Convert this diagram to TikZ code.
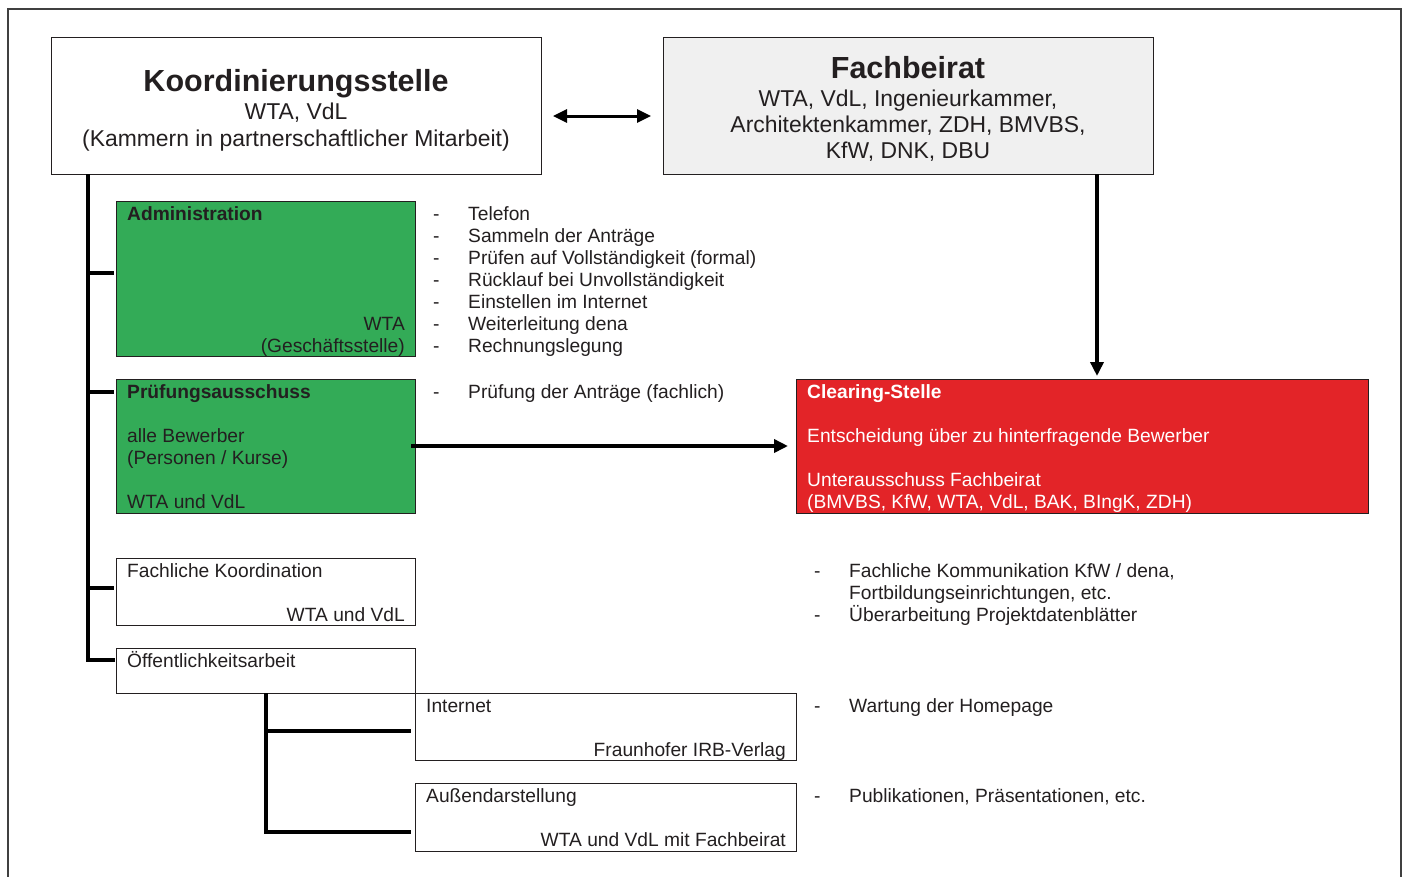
\documentclass[tikz,border=0pt]{standalone}
\usepackage{fontspec}
\setmainfont{Liberation Sans}
\usetikzlibrary{arrows.meta}
\definecolor{grn}{RGB}{51,171,87}
\definecolor{rd}{RGB}{227,36,40}
\definecolor{gry}{RGB}{240,240,240}
\definecolor{txt}{RGB}{35,31,32}
\begin{document}
\begin{tikzpicture}[x=1pt,y=-1pt,
  box/.style={draw=txt, line width=1pt, inner sep=0pt, outer sep=0pt, anchor=north west},
  conn/.style={line width=4pt},
  arr/.style={line width=4pt, -{Triangle[length=14pt,width=13pt]}},
  t/.style={inner sep=0pt, text=txt, font=\fontsize{19.2}{22}\selectfont},
  tb/.style={inner sep=0pt, text=txt, font=\fontsize{19.2}{22}\selectfont\bfseries},
  tw/.style={inner sep=0pt, text=white, font=\fontsize{19.2}{22}\selectfont},
  twb/.style={inner sep=0pt, text=white, font=\fontsize{19.2}{22}\selectfont\bfseries},
  big/.style={inner sep=0pt, text=txt, font=\fontsize{22.9}{26}\selectfont},
  title/.style={inner sep=0pt, text=txt, font=\fontsize{30.5}{34}\selectfont\bfseries},
]
\useasboundingbox (0,0) rectangle (1407,876);
\draw[line width=1.5pt, draw=black!75] (8,9) rectangle (1401,900);

% top boxes
\node[box, minimum width=490pt, minimum height=137pt] (koord) at (51,37) {};
\node[title, anchor=base] (koordT) at (296,91) {Koordinierungsstelle};
\node[big, anchor=base] (koord1) at (296,119) {WTA, VdL};
\node[big, anchor=base] (koord2) at (296,146) {(Kammern in partnerschaftlicher Mitarbeit)};

\node[box, fill=gry, minimum width=490pt, minimum height=137pt] (fach) at (663,37) {};
\node[title, anchor=base] (fachT) at (908,78) {Fachbeirat};
\node[big, anchor=base] (fach1) at (908,106) {WTA, VdL, Ingenieurkammer,};
\node[big, anchor=base] (fach2) at (908,132) {Architektenkammer, ZDH, BMVBS,};
\node[big, anchor=base] (fach3) at (908,158) {KfW, DNK, DBU};

% Administration
\node[box, fill=grn, minimum width=299pt, minimum height=155pt] (adm) at (116,201) {};
\node[tb, anchor=base west] (admT) at (127,220) {Administration};
\node[t, anchor=base east] (adm1) at (405,330) {WTA};
\node[t, anchor=base east] (adm2) at (405,352) {(Geschäftsstelle)};
\node[t, anchor=base west] (ad1) at (433,220) {-};
\node[t, anchor=base west] (al1) at (468,220) {Telefon};
\node[t, anchor=base west] (ad2) at (433,242) {-};
\node[t, anchor=base west] (al2) at (468,242) {Sammeln der Anträge};
\node[t, anchor=base west] (ad3) at (433,264) {-};
\node[t, anchor=base west] (al3) at (468,264) {Prüfen auf Vollständigkeit (formal)};
\node[t, anchor=base west] (ad4) at (433,286) {-};
\node[t, anchor=base west] (al4) at (468,286) {Rücklauf bei Unvollständigkeit};
\node[t, anchor=base west] (ad5) at (433,308) {-};
\node[t, anchor=base west] (al5) at (468,308) {Einstellen im Internet};
\node[t, anchor=base west] (ad6) at (433,330) {-};
\node[t, anchor=base west] (al6) at (468,330) {Weiterleitung dena};
\node[t, anchor=base west] (ad7) at (433,352) {-};
\node[t, anchor=base west] (al7) at (468,352) {Rechnungslegung};

% Pruefungsausschuss
\node[box, fill=grn, minimum width=299pt, minimum height=134pt] (pruef) at (116,379) {};
\node[tb, anchor=base west] (pruefT) at (127,398) {Prüfungsausschuss};
\node[t, anchor=base west] (pruef1) at (127,442) {alle Bewerber};
\node[t, anchor=base west] (pruef2) at (127,464) {(Personen / Kurse)};
\node[t, anchor=base west] (pruef3) at (127,508) {WTA und VdL};
\node[t, anchor=base west] (pd1) at (433,398) {-};
\node[t, anchor=base west] (pl1) at (468,398) {Prüfung der Anträge (fachlich)};

% Clearing-Stelle
\node[box, fill=rd, minimum width=572pt, minimum height=134pt] (clear) at (796,379) {};
\node[twb, anchor=base west] (clearT) at (807,398) {Clearing-Stelle};
\node[tw, anchor=base west] (clear1) at (807,442) {Entscheidung über zu hinterfragende Bewerber};
\node[tw, anchor=base west] (clear2) at (807,486) {Unterausschuss Fachbeirat};
\node[tw, anchor=base west] (clear3) at (807,508) {(BMVBS, KfW, WTA, VdL, BAK, BIngK, ZDH)};

% Fachliche Koordination
\node[box, minimum width=299pt, minimum height=67pt] (fk) at (116,558) {};
\node[t, anchor=base west] (fkT) at (127,577) {Fachliche Koordination};
\node[t, anchor=base east] (fk1) at (405,621) {WTA und VdL};
\node[t, anchor=base west] (fd1) at (814,577) {-};
\node[t, anchor=base west] (fl1) at (849,577) {Fachliche Kommunikation KfW / dena,};
\node[t, anchor=base west] (fl2) at (849,599) {Fortbildungseinrichtungen, etc.};
\node[t, anchor=base west] (fd3) at (814,621) {-};
\node[t, anchor=base west] (fl3) at (849,621) {Überarbeitung Projektdatenblätter};

% Oeffentlichkeitsarbeit
\node[box, minimum width=299pt, minimum height=45pt] (oeff) at (116,648) {};
\node[t, anchor=base west] (oeffT) at (127,667) {Öffentlichkeitsarbeit};

% Internet
\node[box, minimum width=381pt, minimum height=67pt] (inet) at (415,693) {};
\node[t, anchor=base west] (inetT) at (426,712) {Internet};
\node[t, anchor=base east] (inet1) at (786,756) {Fraunhofer IRB-Verlag};
\node[t, anchor=base west] (id1) at (814,712) {-};
\node[t, anchor=base west] (il1) at (849,712) {Wartung der Homepage};

% Aussendarstellung
\node[box, minimum width=381pt, minimum height=68pt] (auss) at (415,783) {};
\node[t, anchor=base west] (aussT) at (426,802) {Außendarstellung};
\node[t, anchor=base east] (auss1) at (786,846) {WTA und VdL mit Fachbeirat};
\node[t, anchor=base west] (sd1) at (814,802) {-};
\node[t, anchor=base west] (sl1) at (849,802) {Publikationen, Präsentationen, etc.};

% connectors
\coordinate (trunk) at ([xshift=37pt]koord.south west);
\draw[conn] (trunk) |- ([yshift=10.5pt,xshift=-1pt]oeff.west);
\draw[conn] ([yshift=5.5pt]adm.west -| trunk) -- ([xshift=-2pt,yshift=5.5pt]adm.west);
\draw[conn] ([yshift=-13pt]pruef.north west -| trunk) -- ([xshift=-2pt,yshift=-13pt]pruef.north west);
\draw[conn] ([yshift=3.5pt]fk.west -| trunk) -- ([xshift=-2pt,yshift=3.5pt]fk.west);

\coordinate (sub) at ([xshift=150pt]oeff.south west);
\draw[conn] (sub) |- ([xshift=-4pt,yshift=-15pt]auss.west);
\draw[conn] ([yshift=-4.5pt]inet.west -| sub) -- ([xshift=-4pt,yshift=-4.5pt]inet.west);

\draw[line width=3pt, {Triangle[length=14pt,width=13pt]}-{Triangle[length=14pt,width=13pt]}, shorten <=12pt, shorten >=12pt]
  ([yshift=-10.5pt]koord.east) -- ([yshift=-10.5pt]fach.west);
\coordinate (fdown) at ([xshift=189pt]fach.south);
\draw[arr, shorten >=3pt] (fdown) -- (fdown |- clear.north);
\draw[arr, shorten >=8pt] ([xshift=-4pt]pruef.east) -- (pruef.east -| clear.west);
\end{tikzpicture}
\end{document}
